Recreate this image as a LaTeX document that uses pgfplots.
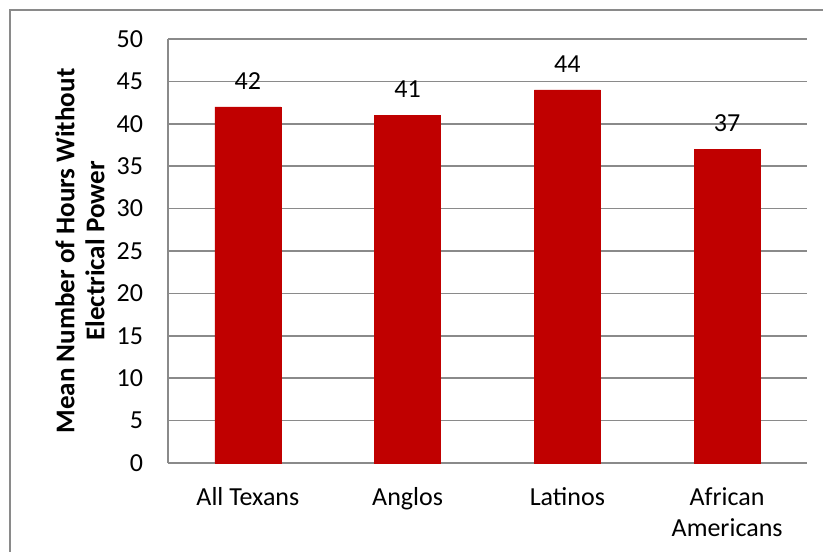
\documentclass[border=0pt]{standalone}
\usepackage{pgfplots}
\pgfplotsset{compat=1.18}
\usepackage{fontspec}
\setmainfont{Carlito}
\definecolor{barred}{HTML}{C00000}
\definecolor{gridgray}{HTML}{8A8A8A}
\begin{document}
\begin{tikzpicture}
\useasboundingbox (0pt,0pt) rectangle (617.25pt,-414pt);
\draw[gridgray,line width=1.1pt] (7.5pt,-414pt) -- (7.5pt,-7.5pt) -- (617.25pt,-7.5pt);
\begin{axis}[
  at={(126pt,-347.25pt)}, anchor=south west,
  scale only axis,
  width=479.25pt, height=318pt,
  xmin=-0.5, xmax=3.5, ymin=0, ymax=50,
  ytick={0,5,...,50},
  xtick={0,1,2,3},
  xticklabels={All Texans,Anglos,Latinos,{African\\Americans}},
  /pgf/number format/assume math mode=true,
  tick label style={font=\fontsize{19.5pt}{23.5pt}\selectfont, inner sep=0pt},
  yticklabel style={anchor=east, xshift=-18.5pt},
  xticklabel style={anchor=north, yshift=-18pt, align=center},
  major tick length=0pt,
  axis x line*=bottom, axis y line*=left,
  axis line style={gridgray, line width=1.1pt},
  ymajorgrids, major grid style={gridgray, line width=1.1pt},
  ylabel={Mean Number of Hours Without\\Electrical Power},
  every axis y label/.style={at={(axis description cs:-0.1377,0.5)}, anchor=center, rotate=90,
    font=\fontsize{20.3pt}{22.5pt}\selectfont\bfseries, align=center},
  nodes near coords,
  every node near coord/.append style={font=\fontsize{19.5pt}{23pt}\selectfont, inner sep=0pt, anchor=south, yshift=13pt, black},
]
\addplot[ybar, bar width=49.5pt, fill=barred, draw=barred, bar shift=0pt] coordinates {(0,42) (1,41) (2,44) (3,37)};
\end{axis}
\end{tikzpicture}
\end{document}
